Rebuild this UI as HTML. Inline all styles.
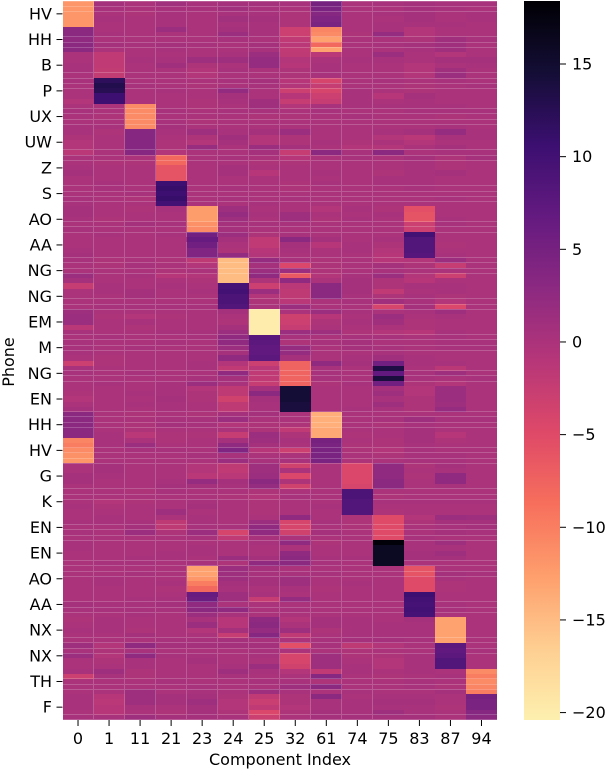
<!DOCTYPE html>
<html lang="en">
<head>
<meta charset="utf-8">
<title>Phone by component heatmap</title>
<style>
html,body{margin:0;padding:0;background:#fff;}
#chart{display:block;width:606px;height:770px;}
text{font-family:"DejaVu Sans","Liberation Sans",sans-serif;font-size:16px;fill:#000;}
</style>
</head>
<body>
<svg id="chart" xmlns="http://www.w3.org/2000/svg" width="606" height="770" viewBox="0 0 606 770">
<defs>
<linearGradient id="cbGrad" x1="0" y1="0" x2="0" y2="1"></linearGradient>
</defs>
<g id="cells"></g>
<path id="seams" fill="none" stroke="#fff" stroke-opacity="0.2" stroke-width="1" shape-rendering="crispEdges"></path>
<g id="xAxis"></g>
<g id="yAxis"></g>
<text x="280" y="765" text-anchor="middle">Component Index</text>
<text transform="translate(14,362) rotate(-90)" text-anchor="middle">Phone</text>
<rect x="524" y="1" width="36" height="719" fill="url(#cbGrad)"></rect>
<g id="cbAxis"></g>
</svg>
<script>
const phoneLabels = ["HV","HH","B","P","UX","UW","Z","S","AO","AA","NG","NG","EM","M","NG","EN","HH","HV","G","K","EN","EN","AO","AA","NX","NX","TH","F"];
const componentLabels = ["0","1","11","21","23","24","25","32","61","74","75","83","87","94"];
const colorbarTicks = [15,10,5,0,-5,-10,-15,-20];
const valueMax = 18.4;
const valueMin = -20.4;
const rowsPerPhone = 5;
const seamRows = [0,1,2,7,8,9,14,15,16,17,21,22,23,24,29,30,31,36,37,38,39,43,44,45,50,51,52,53,58,59,60,65,66,67,68,72,73,74,80,81,82,83,87,88,89,90,95,96,97,102,103,104,105,109,110,111,112,117,118,119,124,125,126,127,132,133,134,139,140];
const seamColumns = [0,1,2,3,4,5,6,7,8,9,10];
const magmaStops = ["#000004","#140e36","#3b0f70","#641a80","#8c2981","#b63679","#de4968","#f76f5c","#fe9f6d","#fece91","#fdf0af"];
const cellValues = [
[-12,.6,0,.9,.3,.6,.6,.3,5,0,.3,.6,.3,.3],
[-12,.3,0,.3,.3,.9,.3,0,4.5,0,0,.6,.3,0],
[-12,0,-.3,.3,0,.3,.3,-.3,3.5,0,.3,.6,0,.3],
[-12,.3,0,.3,0,.9,.6,-.3,4,0,0,.6,0,.3],
[-12,0,0,.3,0,.3,.3,-.3,4.5,0,.3,.3,.3,0],
[3,0,0,1.5,0,.6,.3,-3,-10.5,0,.3,-.7,0,0],
[3,.3,0,0,0,1.5,.3,-3,-11,-.3,2,-.7,0,0],
[2.5,0,0,0,0,.3,0,-2,-13,0,0,-.3,1,.3],
[3,.6,.3,.6,.3,0,.6,-1.4,-8,0,.3,.6,1,0],
[3,0,0,.3,0,0,.3,-2,-13,0,0,.3,1,0],
[0,-2,0,0,0,.3,1.5,-1.8,-1.4,0,1.5,0,-.7,0],
[0,-2,.3,.3,1.2,1.2,2,-.7,0,.3,.3,0,.6,.6],
[.3,-2,0,1,-.3,0,2,-1,.3,0,0,-.7,0,.3],
[.3,-2.2,0,0,-.7,.3,0,-.3,.3,0,0,-.7,1,0],
[0,-2.2,0,0,-.7,0,0,-.3,.3,0,0,-.7,1.5,0],
[.3,12,0,0,0,.3,.6,-1,-4,0,.3,0,.3,0],
[0,13,.3,0,-.3,0,.3,-.7,-2.5,0,0,-.3,0,.3],
[0,12.5,0,.3,0,2.2,0,-3,-4,.3,0,-.3,0,0],
[0,10.5,0,0,0,.6,0,-1,-3,.3,-1,.6,0,0],
[-.7,10.5,0,0,-.3,.3,1,-2.5,-2.5,.3,0,.3,0,0],
[0,0,-11,0,-.3,0,1,-.7,.3,.3,.3,.3,.3,0],
[.3,0,-11,.3,0,.3,.3,0,.3,0,0,.3,.3,.3],
[0,-.3,-11,0,0,0,-.3,-.3,0,.3,0,0,-.3,0],
[0,0,-11,.3,-.3,0,0,0,0,0,0,0,0,0],
[.3,.3,-11,.6,0,0,0,0,0,0,0,0,.3,0],
[.3,-.3,3.5,.3,1.2,.3,.6,1.5,0,0,.3,.6,2,.3],
[-.3,0,3.5,0,-.3,1,-.7,-.3,0,0,-.7,-1.4,.3,.3],
[-.7,0,3.5,-.3,-.7,.6,-.7,-.3,.3,-.3,0,-.7,0,0],
[-.7,0,3.5,-.3,1.8,0,1.5,.6,0,-.7,-.7,0,.6,0],
[-1.4,0,3.5,-.7,0,0,.6,-2.5,3,.3,3,0,.3,.3],
[0,0,0,-8,0,.3,0,-1,0,.3,0,.6,-.3,.6],
[0,-.3,-.3,-8,0,0,-.3,-.3,0,0,0,.3,-.3,0],
[.3,0,0,-6,0,.6,0,0,0,0,0,.3,-.3,0],
[.6,0,0,-6,0,.6,-1,0,.3,0,-.3,.3,.6,0],
[0,0,0,-6,0,0,0,0,0,0,.3,.3,0,0],
[0,.3,0,10.5,0,0,0,-.3,.3,0,.3,.3,0,0],
[0,.3,0,11,0,.3,0,-.3,0,0,0,.3,0,0],
[0,0,.3,10.5,0,0,0,0,0,0,0,0,0,0],
[.3,0,-.3,11,0,.3,0,.3,0,0,0,0,.3,0],
[.3,0,0,10,0,0,.3,0,0,0,0,0,0,0],
[.6,0,-.3,.3,-12.5,1.2,0,0,-.7,.3,-.3,-5.5,0,0],
[.6,0,0,0,-12.5,2,.3,1.2,0,0,.3,-6,0,0],
[.3,-.3,0,0,-12.5,1.2,0,1.2,-.3,.3,0,-6,.3,0],
[0,0,.6,.3,-11.5,.6,.3,.3,0,0,0,-3,.3,0],
[.3,0,0,0,-11,.6,0,0,0,0,0,-3,0,0],
[0,.3,0,.3,5.5,1.5,-.3,.3,0,0,0,10,0,0],
[0,0,0,0,6.5,.6,-2,3,.6,0,.3,8.5,0,0],
[0,0,0,0,5.5,0,-2,.6,-1,.3,-.3,8.5,-.3,0],
[.3,0,0,0,4,-.3,-1,.3,0,.3,-.7,8.5,0,0],
[.6,0,0,0,4,2.2,-.7,0,0,0,-1,8,.3,0],
[.3,-.3,0,-.3,-1.8,-15,2,.3,-.3,0,-1,-.7,1.5,0],
[0,-.3,.3,0,-.7,-15,.6,-4.5,-.3,0,.6,-.3,-2.5,0],
[0,0,0,-.3,0,-15,1.5,1.5,-.3,0,.3,0,0,0],
[1.5,0,.3,-1,-.7,-15,2.5,-6.5,-.7,.3,1.5,-.7,-3,0],
[.6,0,0,0,-.3,-15,-.3,2.5,0,.6,-.3,-1,0,0],
[-2.5,.3,0,.3,0,9.5,-3,-1.4,3,.6,-.3,.3,.3,0],
[0,.3,.6,0,.3,10,1.5,-1.8,3,.6,-2,0,.3,0],
[0,0,.6,0,0,9,-.7,-1.8,3,.3,-.3,.3,-.3,0],
[0,0,0,0,0,9,-.3,-1.4,0,.3,1,.3,-.7,0],
[0,.3,.3,.3,.3,8.5,0,1.5,0,0,-4,.6,-4.5,0],
[1.2,0,0,0,0,.6,-20,0,1.5,.3,0,.3,1.2,0],
[1.5,-.3,-.7,-.3,0,0,-20,-3.2,-1,0,1.5,0,.3,0],
[1.5,0,.3,0,0,-.3,-20,-3,-.3,.3,1,-.3,0,0],
[-1.4,0,-.3,0,0,.6,-20,-2.5,0,0,0,-.3,0,0],
[.3,0,0,.3,.3,1.5,-20,1.5,1.2,-.3,-.7,-1,.3,0],
[0,.3,0,0,.3,2.5,8,.3,0,.3,.3,0,.3,0],
[.3,0,0,.3,0,2.5,7.5,-.3,.3,.6,0,0,.3,.3],
[.3,0,.3,0,0,1.5,7,2,0,.6,.3,0,.3,.3],
[.3,0,0,0,0,.6,7,2,0,0,.3,0,0,0],
[0,-.3,0,0,0,2.5,7.5,.6,0,.3,1,.3,0,0],
[-3,-.3,0,0,.3,-.7,-3,-7.5,2.5,.6,5.5,.3,.3,0],
[.3,0,0,0,.3,-2,-1.4,-7.5,.3,0,13.5,0,-1.5,0],
[.3,0,.3,0,0,2.5,-2,-7.5,.3,0,7,.3,1.2,0],
[0,0,0,0,.3,.6,-2,-7.5,.3,0,14,.3,0,.3],
[0,.3,0,.3,1.5,.3,-2.5,-7.5,-.3,.3,5.5,-.3,-.7,0],
[0,0,0,.3,-.7,-1.8,.6,14.5,0,0,.6,-.7,1.5,0],
[-.3,0,.3,.3,-.3,-1.8,3,14.5,0,0,1.2,-.7,1.5,0],
[-.7,0,0,.6,-.3,-3.5,.6,14.5,0,0,.3,-.3,1.5,0],
[0,0,.3,.3,0,-1.8,.3,14,0,0,1.2,-.3,1.2,0],
[.6,0,0,.3,0,-1.8,.3,14,0,.3,.3,-.3,2,0],
[3,0,-.3,0,-.3,.6,.6,0,-14,0,0,0,0,0],
[3,0,0,.3,.3,1.5,0,0,-14,0,.3,1.2,.3,.3],
[3,0,-.3,.6,.3,-.7,-.3,-.3,-14,0,-.3,.3,0,0],
[3,0,-.3,0,0,0,-.3,-2,-13.5,0,0,.6,0,0],
[3,.3,-1.4,-.3,-.3,-2.5,1.5,-.3,-13.5,-.3,0,.6,-1,0],
[-10.5,.3,0,-.3,0,.6,1.2,.3,5,0,-.3,.6,-.3,0],
[-10,.3,1.5,0,0,2.5,.6,0,4.5,-.3,-.3,.3,0,0],
[-11,0,.3,.3,0,4,-1,-3,4.5,-.3,-.7,.3,0,0],
[-11.5,0,0,0,.3,.3,0,0,4.5,0,-.3,.3,.3,0],
[-12,0,0,0,0,1.5,.3,.3,4.5,-.3,0,.3,.3,0],
[0,.6,0,0,-.7,-1.8,1.2,-3.5,0,-4.5,2.5,-.3,.6,0],
[0,.6,0,0,-.7,-2,1.2,0,0,-4.5,2.5,0,.3,0],
[.6,.3,0,0,-1.4,-1.4,1.5,-4.5,0,-4.5,2.5,-.3,2.5,0],
[.6,0,0,.3,2,.6,3,-.3,0,-4.5,3,0,2.5,0],
[0,0,0,.6,.6,.3,2,-3.5,0,-4,3,0,.3,0],
[0,0,-.3,.3,0,0,-.3,0,0,9,0,0,0,0],
[0,0,0,0,0,-.3,-.7,.3,0,9,-.3,0,0,0],
[0,-.7,-.3,0,.3,0,-.3,0,0,8.5,.3,.3,.3,.3],
[.3,-.3,0,0,.6,0,-.3,0,.3,8.5,0,0,0,0],
[0,0,0,1.2,0,0,-.3,0,0,8.5,-.3,0,0,0],
[0,.3,0,0,.3,0,0,2.5,0,-.3,-5,-.7,1.5,1.2],
[.3,.3,.3,-1.8,.3,0,1.5,-4,.3,-.3,-5,-.3,.6,.6],
[0,0,.6,-1.8,.3,.3,2.5,-4,0,-.3,-5,0,.3,.6],
[.3,0,1.5,-.3,1.5,-4,2.5,-3.5,.6,0,-5,0,.6,.3],
[0,0,0,0,.3,-2,.3,0,0,0,-5,.3,0,0],
[.3,0,0,0,0,0,.3,2.5,-.3,0,18,.3,1.2,0],
[.3,0,0,0,.3,0,0,0,0,0,16,.3,.3,0],
[0,0,0,.3,.3,0,0,2.5,0,0,16,.6,1.2,0],
[0,0,.3,.3,0,1.5,.6,3,.3,.3,16,.6,.6,0],
[0,.3,.3,0,.3,-.3,2.5,3,.3,0,16,0,0,0],
[0,0,0,0,-13,1.5,.6,0,0,0,0,-6,0,0],
[0,0,.3,0,-13,1.2,.3,.3,.3,0,0,-6,.6,.3],
[0,.3,0,0,-12,1.2,.6,1.2,0,0,0,-5,.3,0],
[0,.3,0,.3,-10,.6,.6,1.2,0,.3,0,-5,-.3,0],
[0,0,0,-.3,-8,.3,0,.3,-.3,0,0,-5,-.3,0],
[0,0,0,0,6.5,1.2,.3,0,0,0,0,10.5,0,0],
[0,0,.3,.3,6,1.2,-2.5,2,0,0,0,10,0,0],
[.6,.3,.3,.6,2.5,0,0,0,0,0,0,9.5,.3,0],
[.3,.3,.3,.3,3,2.5,0,.3,0,0,0,10,.3,0],
[0,0,.3,0,1.5,.3,0,0,0,0,0,9.5,0,0],
[-.3,.3,0,0,.3,-1,2.5,-.7,.6,.3,0,.6,-13,0],
[0,.3,0,0,1.5,-1,3,0,.6,.3,.3,.3,-13,0],
[.3,.3,-.3,0,-.7,.6,2,1.2,-.3,.3,.3,.3,-13,0],
[0,0,.6,0,0,-2.5,3.5,-2,0,.3,.3,.3,-13,0],
[0,0,0,.3,.3,.6,.3,0,.3,.6,.6,.3,-13,0],
[1.2,-.7,2.5,.6,.6,.6,.6,-5.5,.3,-1.8,-.7,0,7.5,0],
[.3,-.3,.3,0,0,0,.3,0,0,-.3,0,0,7,.3],
[1.5,-.7,2.5,.3,.3,0,.3,-4,1.2,-.3,-.3,.3,7.5,0],
[0,-.3,.3,0,.6,0,0,-4,1.2,0,-.7,.3,8.5,0],
[0,0,.3,0,0,.3,1.5,-3.5,1.2,.3,-.7,.3,8.5,0],
[.3,1.2,-.3,0,0,1.2,.3,-.7,-2,.3,0,.3,0,-11],
[-3,.3,-.3,0,0,.3,0,0,3.5,0,-.3,0,.3,-10],
[0,0,0,.3,0,0,.3,.3,-.3,0,0,.3,0,-11],
[0,0,0,0,.3,0,0,1.2,3,0,0,.3,-.3,-10.5],
[0,0,1.2,0,.3,0,1.2,.3,0,.3,0,0,.6,-10],
[.3,-1,1.2,.6,.6,-.3,-2,-.3,3,0,.3,.3,0,5],
[.3,-1.4,1.2,.6,1.2,-.7,-2.8,-.3,.3,.3,.6,.6,0,4.5],
[.3,-1,.3,0,.6,-.7,-2,-.7,.3,.3,.3,.3,-.3,4.5],
[0,-1,0,-.3,.6,-.3,-4.5,-.3,.6,.3,1.2,.3,0,3.5],
[.3,.3,1.2,.6,.6,.3,-3,0,.6,.6,.6,.6,0,3]
];

const plotLeft = 62.5, plotRight = 497, plotTop = 1, plotBottom = 720;
const cbTop = 1, cbBottom = 720, cbRight = 560;
const NS = "http://www.w3.org/2000/svg";

const rowCount = cellValues.length;
const colCount = componentLabels.length;
function xScale(col){ return plotLeft + (plotRight - plotLeft) * col / colCount; }
function yScale(row){ return plotTop + (plotBottom - plotTop) * row / rowCount; }
function cbScale(v){ return cbTop + (cbBottom - cbTop) * (valueMax - v) / (valueMax - valueMin); }
function parseHex(h){ return [1,3,5].map(function(i){ return parseInt(h.substr(i,2),16); }); }
function colorOf(v){
  let t = (valueMax - v) / (valueMax - valueMin);
  t = Math.max(0, Math.min(1, t));
  const p = t * (magmaStops.length - 1);
  const i = Math.min(Math.floor(p), magmaStops.length - 2);
  const a = parseHex(magmaStops[i]), b = parseHex(magmaStops[i + 1]);
  const f = p - i;
  return "rgb(" + [0,1,2].map(function(k){ return Math.round(a[k] + (b[k] - a[k]) * f); }).join(",") + ")";
}
function make(tag, attrs, parent){
  const el = document.createElementNS(NS, tag);
  for (const k in attrs) el.setAttribute(k, attrs[k]);
  parent.appendChild(el);
  return el;
}

const grad = document.getElementById("cbGrad");
magmaStops.forEach(function(c, i){
  make("stop", {offset: i / (magmaStops.length - 1), "stop-color": c}, grad);
});

const cellsGroup = document.getElementById("cells");
cellValues.forEach(function(row, r){
  row.forEach(function(v, c){
    const x0 = Math.round(xScale(c)), x1 = Math.round(xScale(c + 1));
    const y0 = Math.round(yScale(r)), y1 = Math.round(yScale(r + 1));
    const cell = make("rect", {x: x0, y: y0, width: x1 - x0, height: y1 - y0, fill: colorOf(v), "shape-rendering": "crispEdges"}, cellsGroup);
    
    
  });
});

let seamPath = "";
function isDark(v){ return v > 6; }
seamRows.forEach(function(r){
  const y = Math.min(Math.floor(yScale(r)), Math.floor(plotBottom) - 1) + 0.5;
  for (let c = 0; c < colCount; c++) {
    const above = cellValues[Math.max(r - 1, 0)][c];
    const below = cellValues[Math.min(r, rowCount - 1)][c];
    if (isDark(above) || isDark(below)) continue;
    seamPath += "M" + Math.round(xScale(c)) + " " + y + "H" + Math.round(xScale(c + 1));
  }
});
seamColumns.forEach(function(c){
  const x = Math.floor(xScale(c)) + 0.5;
  for (let r = 0; r < rowCount; r++) {
    const left = cellValues[r][Math.max(c - 1, 0)];
    const right = cellValues[r][c];
    if (isDark(left) || isDark(right)) continue;
    seamPath += "M" + x + " " + Math.round(yScale(r)) + "V" + Math.round(yScale(r + 1));
  }
});
document.getElementById("seams").setAttribute("d", seamPath);

const xAxis = document.getElementById("xAxis");
componentLabels.forEach(function(label, c){
  const x = xScale(c + 0.5);
  const tick = make("line", {x1: x, x2: x, y1: plotBottom, y2: plotBottom + 6, stroke: "#000", "stroke-width": 1}, xAxis);
  
  
  const text = make("text", {x: x, y: 744, "text-anchor": "middle"}, xAxis);
  text.textContent = label;
  
  
});

const yAxis = document.getElementById("yAxis");
phoneLabels.forEach(function(label, p){
  const y = yScale((p + 0.5) * rowsPerPhone);
  const tick = make("line", {x1: plotLeft - 6, x2: plotLeft, y1: y, y2: y, stroke: "#000", "stroke-width": 1}, yAxis);
  
  
  const text = make("text", {x: plotLeft - 10.5, y: y + 5.5, "text-anchor": "end"}, yAxis);
  text.textContent = label;
  
  
});

const cbAxis = document.getElementById("cbAxis");
colorbarTicks.forEach(function(v){
  const y = cbScale(v);
  const tick = make("line", {x1: cbRight, x2: cbRight + 6, y1: y, y2: y, stroke: "#000", "stroke-width": 1}, cbAxis);
  
  
  const text = make("text", {x: cbRight + 12, y: y + 5.5}, cbAxis);
  text.textContent = String(v).replace("-", "\u2212");
  
  
});
</script>
</body>
</html>
